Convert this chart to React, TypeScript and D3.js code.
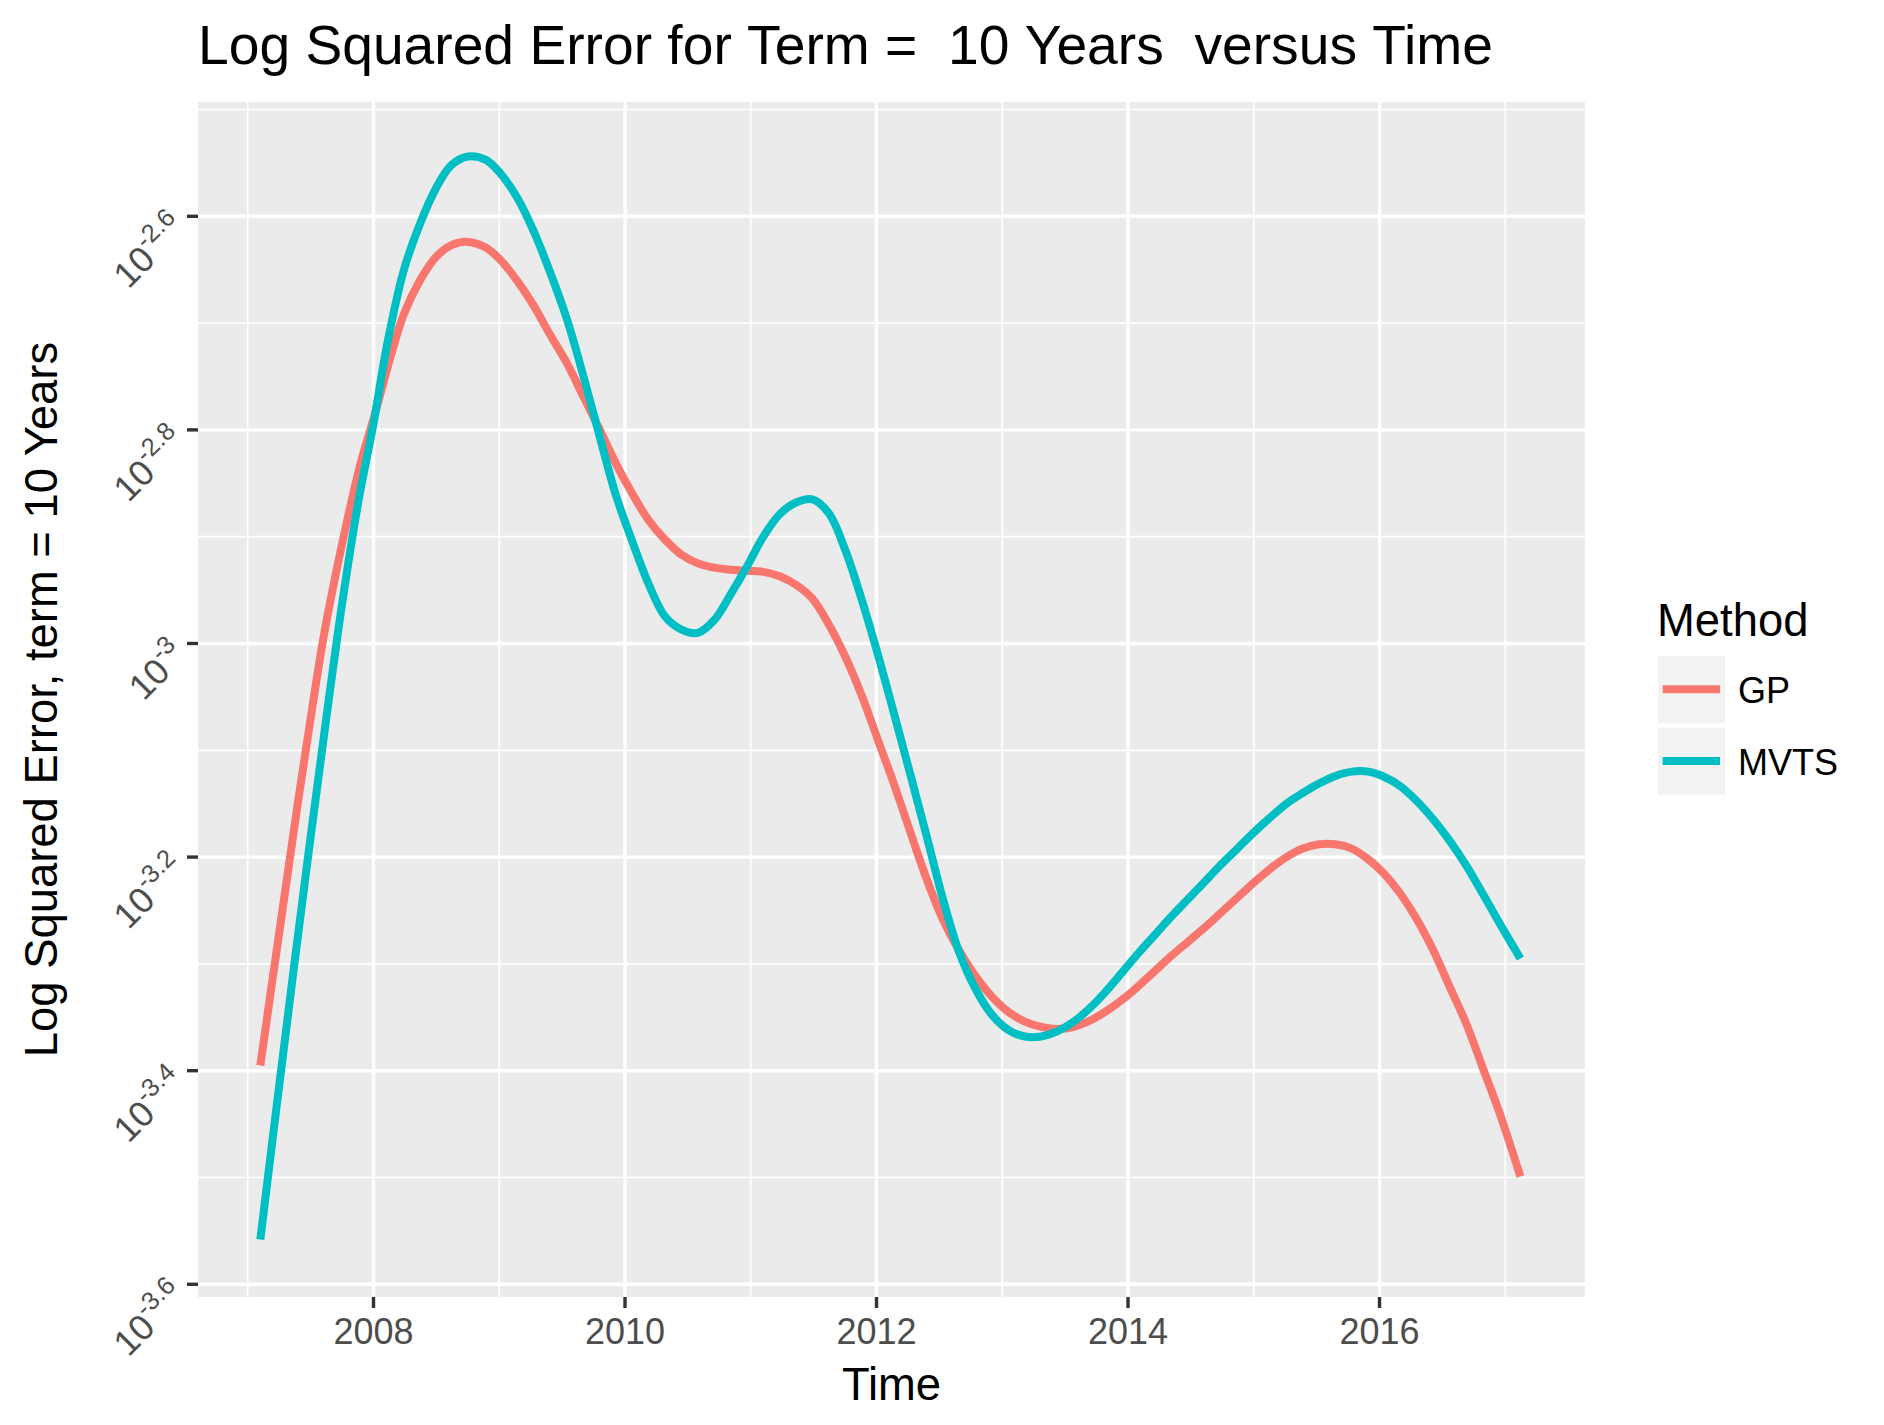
import React from "react";
import * as d3 from "d3";

// ---- data (log10 of squared error) ----
const gpYears = [2007.10, 2007.20, 2007.30, 2007.40, 2007.50, 2007.60, 2007.70, 2007.80, 2007.90, 2008.00, 2008.13, 2008.24, 2008.37, 2008.49, 2008.62, 2008.75, 2008.89, 2009.01, 2009.14, 2009.27, 2009.40, 2009.54, 2009.67, 2009.80, 2009.93, 2010.06, 2010.19, 2010.32, 2010.45, 2010.58, 2010.71, 2010.84, 2010.97, 2011.10, 2011.23, 2011.36, 2011.49, 2011.62, 2011.75, 2011.88, 2012.01, 2012.14, 2012.27, 2012.40, 2012.53, 2012.66, 2012.79, 2012.92, 2013.05, 2013.18, 2013.31, 2013.44, 2013.57, 2013.70, 2013.83, 2013.96, 2014.09, 2014.22, 2014.35, 2014.48, 2014.61, 2014.74, 2014.87, 2015.00, 2015.13, 2015.26, 2015.39, 2015.52, 2015.65, 2015.78, 2015.91, 2016.04, 2016.17, 2016.30, 2016.43, 2016.56, 2016.69, 2016.82, 2016.95, 2017.12];
const gpLogErr = [-3.395, -3.312, -3.230, -3.148, -3.070, -2.996, -2.935, -2.880, -2.830, -2.790, -2.734, -2.692, -2.660, -2.639, -2.627, -2.624, -2.629, -2.641, -2.660, -2.683, -2.710, -2.738, -2.769, -2.800, -2.832, -2.860, -2.885, -2.903, -2.917, -2.925, -2.929, -2.931, -2.932, -2.933, -2.937, -2.945, -2.958, -2.982, -3.012, -3.048, -3.090, -3.132, -3.177, -3.221, -3.259, -3.288, -3.312, -3.331, -3.345, -3.354, -3.359, -3.361, -3.359, -3.353, -3.344, -3.333, -3.320, -3.306, -3.292, -3.279, -3.266, -3.252, -3.238, -3.224, -3.211, -3.200, -3.192, -3.188, -3.188, -3.192, -3.202, -3.216, -3.235, -3.259, -3.288, -3.322, -3.356, -3.397, -3.438, -3.499];

const mvtsYears = [2007.10, 2007.23, 2007.36, 2007.49, 2007.62, 2007.75, 2007.88, 2008.00, 2008.11, 2008.24, 2008.37, 2008.50, 2008.62, 2008.75, 2008.89, 2009.01, 2009.14, 2009.27, 2009.40, 2009.54, 2009.67, 2009.80, 2009.93, 2010.06, 2010.19, 2010.32, 2010.45, 2010.58, 2010.71, 2010.84, 2010.97, 2011.10, 2011.23, 2011.36, 2011.49, 2011.62, 2011.75, 2011.88, 2012.01, 2012.14, 2012.27, 2012.40, 2012.53, 2012.66, 2012.79, 2012.92, 2013.05, 2013.18, 2013.31, 2013.44, 2013.57, 2013.70, 2013.83, 2013.96, 2014.09, 2014.22, 2014.35, 2014.48, 2014.61, 2014.74, 2014.87, 2015.00, 2015.13, 2015.26, 2015.39, 2015.52, 2015.65, 2015.78, 2015.91, 2016.04, 2016.17, 2016.30, 2016.43, 2016.56, 2016.69, 2016.82, 2016.95, 2017.12];
const mvtsLogErr = [-3.558, -3.433, -3.310, -3.190, -3.074, -2.963, -2.867, -2.794, -2.719, -2.651, -2.607, -2.573, -2.552, -2.544, -2.547, -2.560, -2.582, -2.613, -2.651, -2.697, -2.750, -2.807, -2.862, -2.905, -2.945, -2.975, -2.987, -2.990, -2.978, -2.954, -2.928, -2.900, -2.879, -2.868, -2.865, -2.878, -2.912, -2.958, -3.010, -3.066, -3.123, -3.181, -3.240, -3.290, -3.324, -3.348, -3.362, -3.368, -3.368, -3.363, -3.354, -3.341, -3.325, -3.307, -3.289, -3.272, -3.255, -3.239, -3.223, -3.207, -3.192, -3.177, -3.163, -3.150, -3.140, -3.131, -3.124, -3.120, -3.120, -3.125, -3.134, -3.148, -3.165, -3.185, -3.208, -3.234, -3.261, -3.295];

const methods = ["GP", "MVTS"];
const methodColors = ["#F8766D", "#00BFC4"];

const xMajorTicks = [2008, 2010, 2012, 2014, 2016];
const xMinorTicks = [2007, 2009, 2011, 2013, 2015, 2017];
const yMajorTicks = [-2.6, -2.8, -3.0, -3.2, -3.4, -3.6];
const yMajorLabels = ["-2.6", "-2.8", "-3", "-3.2", "-3.4", "-3.6"];
const yMinorTicks = [-2.5, -2.7, -2.9, -3.1, -3.3, -3.5];

const titleText = "Log Squared Error for Term =  10 Years  versus Time";
const xTitle = "Time";
const yTitle = "Log Squared Error, term = 10 Years";
const legendTitle = "Method";

// ---- layout ----
const W = 1884;
const H = 1425;
const P = { left: 198, right: 1585, top: 102, bottom: 1297 };
const FONT = "'Liberation Sans', Arial, Helvetica, sans-serif";

export default function App() {
  const x = d3.scaleLinear().domain([2006.6044, 2017.634]).range([P.left, P.right]);
  const y = d3.scaleLinear().domain([-3.6119, -2.493]).range([P.bottom, P.top]);

  const line = d3
    .line<[number, number]>()
    .x((d) => x(d[0]))
    .y((d) => y(d[1]))
    .curve(d3.curveCatmullRom.alpha(0.5));

  const series = [
    gpYears.map((yr, i) => [yr, gpLogErr[i]] as [number, number]),
    mvtsYears.map((yr, i) => [yr, mvtsLogErr[i]] as [number, number]),
  ];

  const lineW = 8;

  return (
    <svg width={W} height={H} style={{ display: "block", position: "absolute", left: 0, top: 0 }} fontFamily={FONT}>
      <rect x={0} y={0} width={W} height={H} fill="#FFFFFF" />
      {/* title */}
      <text x={P.left} y={64} fontSize={55.2} fill="#000">
        {titleText.replace(/ /g, "\u00A0")}
      </text>

      {/* panel */}
      <rect x={P.left} y={P.top} width={P.right - P.left} height={P.bottom - P.top} fill="#EBEBEB" />
      {yMinorTicks.map((v) => (
        <line key={"ym" + v} x1={P.left} x2={P.right} y1={y(v)} y2={y(v)} stroke="#FFFFFF" strokeWidth={1.7} />
      ))}
      {xMinorTicks.map((v) => (
        <line key={"xm" + v} x1={x(v)} x2={x(v)} y1={P.top} y2={P.bottom} stroke="#FFFFFF" strokeWidth={1.7} />
      ))}
      {yMajorTicks.map((v) => (
        <line key={"yM" + v} x1={P.left} x2={P.right} y1={y(v)} y2={y(v)} stroke="#FFFFFF" strokeWidth={3.4} />
      ))}
      {xMajorTicks.map((v) => (
        <line key={"xM" + v} x1={x(v)} x2={x(v)} y1={P.top} y2={P.bottom} stroke="#FFFFFF" strokeWidth={3.4} />
      ))}

      {/* lines */}
      {series.map((s, i) => (
        <path key={methods[i]} d={line(s) || ""} fill="none" stroke={methodColors[i]} strokeWidth={lineW} strokeLinejoin="round" strokeLinecap="butt" />
      ))}

      {/* x axis */}
      {xMajorTicks.map((v) => (
        <g key={"xt" + v}>
          <line x1={x(v)} x2={x(v)} y1={P.bottom} y2={P.bottom + 11} stroke="#333333" strokeWidth={3.4} />
          <text x={x(v)} y={1344} fontSize={36} fill="#4D4D4D" textAnchor="middle">
            {v}
          </text>
        </g>
      ))}
      <text x={(P.left + P.right) / 2} y={1400} fontSize={45.4} fill="#000" textAnchor="middle">
        {xTitle}
      </text>

      {/* y axis */}
      {yMajorTicks.map((v, i) => (
        <g key={"yt" + v}>
          <line x1={P.left - 11} x2={P.left} y1={y(v)} y2={y(v)} stroke="#333333" strokeWidth={3.4} />
          <text transform={`translate(${P.left - 10},${y(v) + 14}) rotate(-45)`} fontSize={36} fill="#4D4D4D" textAnchor="end">
            <tspan>10</tspan>
            <tspan dy={-16} fontSize={25.5}>
              {yMajorLabels[i]}
            </tspan>
          </text>
        </g>
      ))}
      <text transform={`translate(57,${(P.top + P.bottom) / 2}) rotate(-90)`} fontSize={45.4} fill="#000" textAnchor="middle">
        {yTitle}
      </text>

      {/* legend */}
      <text x={1657} y={636} fontSize={45.4} fill="#000">
        {legendTitle}
      </text>
      {methods.map((m, i) => (
        <g key={"lg" + m}>
          <rect x={1658} y={656 + i * 71.7} width={67} height={67} fill="#F2F2F2" />
          <line x1={1662.7} x2={1720} y1={689.3 + i * 71.7} y2={689.3 + i * 71.7} stroke={methodColors[i]} strokeWidth={lineW} />
          <text x={1738} y={703 + i * 71.7} fontSize={36} fill="#000">
            {m}
          </text>
        </g>
      ))}
    </svg>
  );
}
